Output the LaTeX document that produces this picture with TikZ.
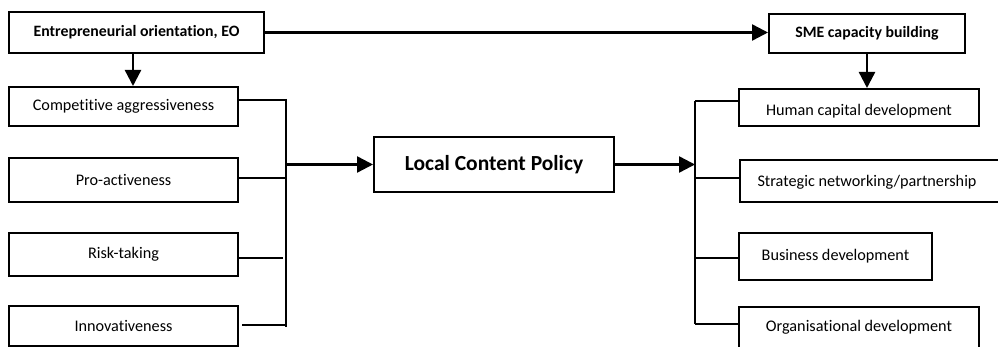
\documentclass[tikz,border=0pt]{standalone}
\usepackage{fontspec}
\setmainfont{Carlito}[Ligatures=NoCommon]
\usetikzlibrary{arrows.meta}

\begin{document}
\begin{tikzpicture}[x=1pt,y=-1pt]

    \tikzset{
      box/.style={
        draw,
        line width=2pt,
        inner sep=0pt,
        font=\fontsize{16.2}{19}\selectfont,
      },
      lbl/.style={font=\fontsize{16.2}{19}\selectfont,inner sep=0pt},
      link/.style={line width=2.4pt},
      flow/.style={line width=2.4pt,-{Triangle[length=16pt,width=16pt]}},
    }
    \useasboundingbox (0,0) rectangle (998,347);
    \clip (0,0) rectangle (998,347);

	\node[box,font=\fontsize{15.8}{18}\selectfont\bfseries,minimum width=255pt,minimum height=41pt] (eo) at (136.5,32.5) {Entrepreneurial orientation, EO};
	\node[box,font=\fontsize{15.8}{18}\selectfont\bfseries,minimum width=196pt,minimum height=39pt] (sme) at (867,33.5) {SME capacity building};

	\node[box,minimum width=229pt,minimum height=39pt] (comp) at (123.5,106.5) {Competitive aggressiveness};
	\node[box,minimum width=229pt,minimum height=44pt] (pro) at (123.5,180) {Pro-activeness};
	\node[box,minimum width=229pt,minimum height=43pt] (risk) at (123.5,254.5) {Risk-taking};
	\node[box,minimum width=229pt,minimum height=40pt] (innov) at (123.5,326) {Innovativeness};

	\node[box,font=\fontsize{21.5}{24}\selectfont\bfseries,minimum width=240pt,minimum height=55pt] (lcp) at (494,164.5) {Local Content Policy};

	\node[box,minimum width=240pt,minimum height=37pt] (human) at (859,107.5) {};
	\node[lbl] (humantext) at (859,111) {Human capital development};
	\node[box,minimum width=275pt,minimum height=42pt,anchor=west] (strat) at (739,181) {};
	\node[lbl] (strattext) at (867,182) {Strategic networking/partnership};
	\node[box,minimum width=193pt,minimum height=47pt] (biz) at (835.5,256.5) {Business development};
	\node[box,minimum width=240pt,minimum height=46pt,anchor=north] (org) at (859,305.5) {};
	\node[lbl] (orgtext) at (859,327) {Organisational development};

	\coordinate (lbus) at (286,99);
	\coordinate (lbusend) at (286,327);
	\coordinate (rbus) at (695,101);
	\coordinate (rbusend) at (695,324);

	% left bracket
	\draw[link] (lbus) -- (lbusend);
	\draw[link] ([yshift=6.5pt]comp.east) -- ([yshift=6.5pt]comp.east -| lbus);
	\draw[link] ([yshift=2pt]pro.east) -- ([yshift=2pt]pro.east -| lbus);
	\draw[link] ([yshift=-3.5pt]risk.east) -- ([yshift=-3.5pt,xshift=-3pt]risk.east -| lbus);
	\draw[link] ([yshift=1pt,xshift=3pt]innov.east) -- ([yshift=1pt]innov.east -| lbus);

	% right bracket
	\draw[link] (rbus) -- (rbusend);
	\draw[link] ([yshift=6.5pt]human.west) -- ([yshift=6.5pt]human.west -| rbus);
	\draw[link] ([yshift=3pt]strat.west) -- ([yshift=3pt]strat.west -| rbus);
	\draw[link] ([yshift=-1.5pt]biz.west) -- ([yshift=-1.5pt]biz.west -| rbus);
	\draw[link] (org.west |- rbusend) -- (rbusend);

	% arrows
	\draw[flow] (eo.east) -- (sme.west |- eo.east);
	\draw[flow] ([xshift=-3.5pt]eo.south) -- ([xshift=-3.5pt]eo.south |- comp.north);
	\draw[flow] (sme.south) -- (sme.south |- human.north);
	\draw[flow] (lcp.west -| lbus) -- (lcp.west);
	\draw[flow] (lcp.east) -- (lcp.east -| rbus);

\end{tikzpicture}
\end{document}
